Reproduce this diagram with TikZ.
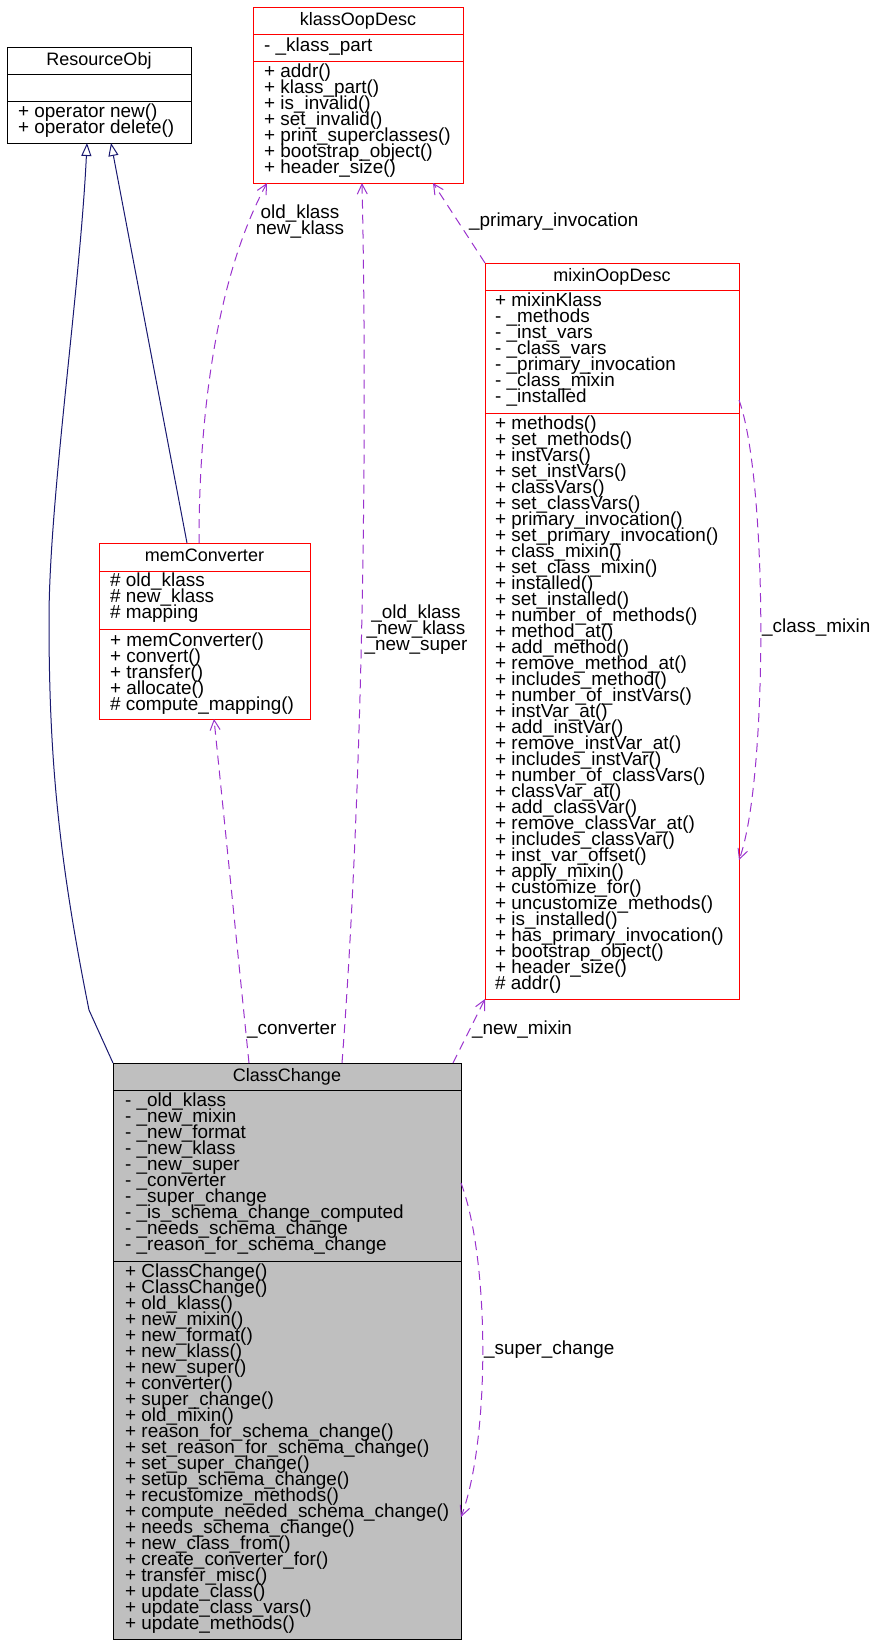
\documentclass[tikz,border=0pt]{standalone}
\usepackage{fontspec}
\setmainfont{Liberation Sans}
\usetikzlibrary{arrows.meta,calc}
\definecolor{edgepurple}{HTML}{9A32CD}
\definecolor{inhblue}{HTML}{191970}
\definecolor{boxred}{HTML}{FF0000}
\definecolor{boxgray}{HTML}{BFBFBF}
\tikzset{
  cls/.style={draw, line width=1pt, anchor=north west, inner sep=0pt, outer sep=0pt},
  redcls/.style={cls, draw=boxred},
  blackcls/.style={cls, draw=black},
  divider/.style={line width=1pt},
  member/.style={anchor=west, inner sep=0pt, font=\fontsize{18.9}{16}\selectfont, text height=13.5pt, text depth=4pt},
  clstitle/.style={anchor=center, inner sep=0pt, font=\fontsize{18}{16}\selectfont, text height=13pt, text depth=4pt},
  lblc/.style={member, anchor=center},
  inh/.style={draw=inhblue, line width=1pt, -{Triangle[open, length=13pt, width=10pt]}},
  dep/.style={draw=edgepurple, line width=1pt, dash pattern=on 9pt off 6pt, -{Straight Barb[length=10pt, width=10pt]}},
}
\newcommand{\memberlist}[4]{%
  \foreach \t [count=\i] in {#4} {\node[member] (#3-\i) at (#1, {#2+16*(\i-1)}) {\t};}%
}
\begin{document}
\begin{tikzpicture}[x=1pt, y=-1pt]
\useasboundingbox (0,0) rectangle (876,1647);

% ---------- ResourceObj ----------
\node[blackcls, minimum width=184pt, minimum height=96pt] (ro) at (7,47) {};
\draw[divider] ($(ro.north west)+(0,27)$) -- ($(ro.north east)+(0,27)$);
\draw[divider] ($(ro.north west)+(0,54)$) -- ($(ro.north east)+(0,54)$);
\node[clstitle] (ro-t) at ($(ro.north)+(0,13.5)$) {ResourceObj};
\memberlist{18}{113}{ro-m}{+ operator new(), + operator delete()}

% ---------- klassOopDesc ----------
\node[redcls, minimum width=210pt, minimum height=176pt] (ko) at (253,7) {};
\draw[divider, boxred] ($(ko.north west)+(0,27)$) -- ($(ko.north east)+(0,27)$);
\draw[divider, boxred] ($(ko.north west)+(0,54)$) -- ($(ko.north east)+(0,54)$);
\node[clstitle] (ko-t) at ($(ko.north)+(0,13.5)$) {klassOopDesc};
\memberlist{264}{47}{ko-a}{- \_klass\_part}
\memberlist{264}{73}{ko-m}{+ addr(), + klass\_part(), + is\_invalid(), + set\_invalid(), + print\_superclasses(), + bootstrap\_object(), + header\_size()}

% ---------- mixinOopDesc ----------
\node[redcls, minimum width=254pt, minimum height=736pt] (mx) at (485,263) {};
\draw[divider, boxred] ($(mx.north west)+(0,27)$) -- ($(mx.north east)+(0,27)$);
\draw[divider, boxred] ($(mx.north west)+(0,150)$) -- ($(mx.north east)+(0,150)$);
\node[clstitle] (mx-t) at ($(mx.north)+(0,13.5)$) {mixinOopDesc};
\memberlist{495}{302}{mx-a}{+ mixinKlass, - \_methods, - \_inst\_vars, - \_class\_vars, - \_primary\_invocation, - \_class\_mixin, - \_installed}
\memberlist{495}{425}{mx-m}{+ methods(), + set\_methods(), + instVars(), + set\_instVars(), + classVars(), + set\_classVars(), + primary\_invocation(), + set\_primary\_invocation(), + class\_mixin(), + set\_class\_mixin(), + installed(), + set\_installed(), + number\_of\_methods(), + method\_at(), + add\_method(), + remove\_method\_at(), + includes\_method(), + number\_of\_instVars(), + instVar\_at(), + add\_instVar(), + remove\_instVar\_at(), + includes\_instVar(), + number\_of\_classVars(), + classVar\_at(), + add\_classVar(), + remove\_classVar\_at(), + includes\_classVar(), + inst\_var\_offset(), + apply\_mixin(), + customize\_for(), + uncustomize\_methods(), + is\_installed(), + has\_primary\_invocation(), + bootstrap\_object(), + header\_size(), \# addr()}

% ---------- memConverter ----------
\node[redcls, minimum width=211pt, minimum height=176pt] (mc) at (99,543) {};
\draw[divider, boxred] ($(mc.north west)+(0,28)$) -- ($(mc.north east)+(0,28)$);
\draw[divider, boxred] ($(mc.north west)+(0,86)$) -- ($(mc.north east)+(0,86)$);
\node[clstitle] (mc-t) at ($(mc.north)+(0,14)$) {memConverter};
\memberlist{110}{582}{mc-a}{\# old\_klass, \# new\_klass, \# mapping}
\memberlist{110}{642}{mc-m}{+ memConverter(), + convert(), + transfer(), + allocate(), \# compute\_mapping()}

% ---------- ClassChange ----------
\node[blackcls, fill=boxgray, minimum width=348pt, minimum height=576pt] (cc) at (113,1063) {};
\draw[divider] ($(cc.north west)+(0,27)$) -- ($(cc.north east)+(0,27)$);
\draw[divider] ($(cc.north west)+(0,198)$) -- ($(cc.north east)+(0,198)$);
\node[clstitle] (cc-t) at ($(cc.north)+(0,13.5)$) {ClassChange};
\memberlist{125}{1102}{cc-a}{- \_old\_klass, - \_new\_mixin, - \_new\_format, - \_new\_klass, - \_new\_super, - \_converter, - \_super\_change, - \_is\_schema\_change\_computed, - \_needs\_schema\_change, - \_reason\_for\_schema\_change}
\memberlist{125}{1273}{cc-m}{+ ClassChange(), + ClassChange(), + old\_klass(), + new\_mixin(), + new\_format(), + new\_klass(), + new\_super(), + converter(), + super\_change(), + old\_mixin(), + reason\_for\_schema\_change(), + set\_reason\_for\_schema\_change(), + set\_super\_change(), + setup\_schema\_change(), + recustomize\_methods(), + compute\_needed\_schema\_change(), + needs\_schema\_change(), + new\_class\_from(), + create\_converter\_for(), + transfer\_misc(), + update\_class(), + update\_class\_vars(), + update\_methods()}

% ---------- connector end points ----------
\coordinate (ro-in1) at ([xshift=80pt]ro.south west);
\coordinate (ro-in2) at ([xshift=104pt]ro.south west);
\coordinate (ko-in1) at ([xshift=14pt]ko.south west);
\coordinate (ko-in2) at ([xshift=109pt]ko.south west);
\coordinate (ko-in3) at ([xshift=180pt]ko.south west);
\coordinate (mc-o1) at ([xshift=88pt]mc.north west);
\coordinate (mc-o2) at ([xshift=100pt]mc.north west);
\coordinate (mc-in) at ([xshift=115pt]mc.south west);
\coordinate (cc-o1) at ([xshift=136pt]cc.north west);
\coordinate (cc-o2) at ([xshift=229pt]cc.north west);
\coordinate (cc-o3) at ([xshift=340pt]cc.north west);
\coordinate (mx-s) at ($(mx.north east)+(0,137)$);
\coordinate (mx-e) at ($(mx.north east)+(0,597)$);
\coordinate (cc-s) at ($(cc.north east)+(0,120)$);
\coordinate (cc-e) at ($(cc.north east)+(0,454)$);
\coordinate (bend) at (89,1010);
\coordinate (low) at (49,620);

% ---------- inheritance ----------
\draw[inh] (cc.north west) -- (bend) .. controls (59,860) and (49,760) .. (low) .. controls (49,500) and (80,290) .. (ro-in1);
\draw[inh] (mc-o1) -- (ro-in2);

% ---------- usage ----------
\draw[dep] (mc-o2) .. controls (199,400) and (220,270) .. (ko-in1);
\draw[dep] (cc-o2) .. controls (362,800) and (368,450) .. (ko-in2);
\draw[dep] (cc-o1) -- (mc-in);
\draw[dep] (mx.north west) -- (ko-in3);
\draw[dep] (cc-o3) -- (mx.south west);
\draw[dep] (mx-s) .. controls (768,480) and (768,780) .. (mx-e);
\draw[dep] (cc-s) .. controls (490,1260) and (490,1440) .. (cc-e);

% ---------- labels ----------
\node[lblc] (l-ok1) at (300,214) {old\_klass};
\node[lblc] (l-ok2) at (300,230) {new\_klass};
\node[lblc] (l-cc1) at (416,614) {\_old\_klass};
\node[lblc] (l-cc2) at (416,630) {\_new\_klass};
\node[lblc] (l-cc3) at (416,646) {\_new\_super};
\node[member] (l-pi) at (469,222) {\_primary\_invocation};
\node[member] (l-cm) at (762,628) {\_class\_mixin};
\node[member] (l-cv) at (247,1030) {\_converter};
\node[member] (l-nm) at (472,1030) {\_new\_mixin};
\node[member] (l-sc) at (484,1350) {\_super\_change};
\end{tikzpicture}
\end{document}
